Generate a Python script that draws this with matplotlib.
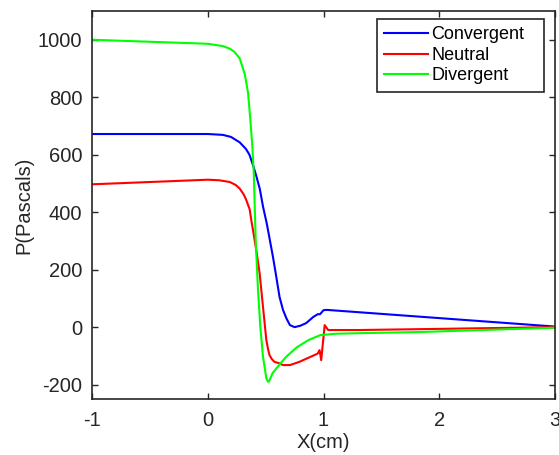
import matplotlib
matplotlib.use("Agg")
import matplotlib.pyplot as plt

plt.rcParams["font.family"] = ["Liberation Sans", "DejaVu Sans"]
plt.rcParams["axes.unicode_minus"] = False

# values
conv_x = [-1, 0, 0.13, 0.2, 0.276, 0.33, 0.36, 0.39, 0.42, 0.45, 0.477,
          0.51, 0.54, 0.563, 0.59, 0.62, 0.65, 0.68, 0.71, 0.75, 0.80, 0.85,
          0.91, 0.95, 0.97, 0.985, 1.0, 1.03, 3]
conv_y = [672, 672, 669, 662, 643, 620, 600, 565, 525, 480, 420,
          360, 295, 245, 180, 105, 60, 30, 7, 0, 5, 14,
          35, 45, 45, 52, 59, 60, 2]

neut_x = [-1, -0.5, 0, 0.1, 0.19, 0.24, 0.276, 0.31, 0.33, 0.362, 0.377,
          0.405, 0.42, 0.448, 0.477, 0.506, 0.52, 0.534, 0.555, 0.577, 0.62,
          0.65, 0.71, 0.79, 0.95, 0.966, 0.98, 1.01, 1.04, 1.31, 1.83, 3]
neut_y = [497, 505, 513, 511, 505, 495, 482, 462, 445, 410, 370,
          303, 265, 188, 71, -45, -75, -98, -112, -121, -126,
          -132, -132, -121, -92, -80, -115, 7, -10, -10, -7, 0]

div_x = [-1, -0.5, 0, 0.13, 0.19, 0.23, 0.276, 0.32, 0.348, 0.368, 0.385,
         0.397, 0.405, 0.414, 0.434, 0.454, 0.477, 0.506, 0.52, 0.53, 0.56,
         0.62, 0.68, 0.77, 0.87, 0.97, 1.1, 1.31, 1.83, 3]
div_y = [1000, 993, 986, 978, 969, 958, 935, 880, 815, 721, 630,
         540, 430, 303, 129, 1, -103, -178, -190, -188, -160,
         -130, -102, -70, -45, -28, -23, -21, -17, -2]

x_ticks = [-1, 0, 1, 2, 3]
y_ticks = [-200, 0, 200, 400, 600, 800, 1000]

fig = plt.figure(figsize=(5.59, 4.55), dpi=100)
ax = fig.add_axes([0.1646, 0.1231, 0.8283, 0.8527])

ax.plot(conv_x, conv_y, color=(0, 0, 1), linewidth=1.5, label="Convergent")
ax.plot(neut_x, neut_y, color=(1, 0, 0), linewidth=1.5, label="Neutral")
ax.plot(div_x, div_y, color=(0, 1, 0), linewidth=1.5, label="Divergent")

ax.set_xlim(-1, 3)
ax.set_ylim(-250, 1100)
ax.set_xticks(x_ticks)
ax.set_yticks(y_ticks)

axis_color = "#262626"
for side in ax.spines.values():
    side.set_color(axis_color)
    side.set_linewidth(1.2)
ax.tick_params(direction="in", length=4, width=1.0, colors=axis_color,
               labelsize=14.5, top=True, right=True)
ax.tick_params(axis="x", pad=9)
ax.tick_params(axis="y", pad=7)

ax.set_xlabel("X(cm)", fontsize=14.5, color=axis_color, labelpad=2)
ax.set_ylabel("P(Pascals)", fontsize=14.5, color=axis_color, labelpad=3)

# matlab style legend box, wider than its text
leg = ax.legend(loc="upper left", bbox_to_anchor=(0.6156, 0.5, 0.3607, 0.4794),
                mode="expand", fontsize=13, frameon=True, fancybox=False,
                borderaxespad=0, handlelength=2.4, handletextpad=0.22,
                labelspacing=0.2, borderpad=0.4)
leg.get_frame().set_edgecolor(axis_color)
leg.get_frame().set_linewidth(1.2)
leg.get_frame().set_alpha(1)

fig.savefig("out.png", dpi=100)
